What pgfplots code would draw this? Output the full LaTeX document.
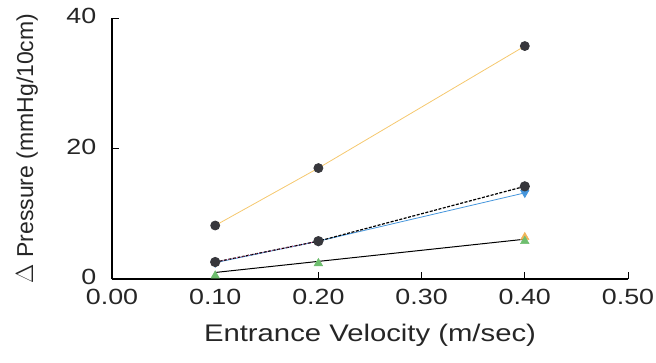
\documentclass[border=0pt]{standalone}
\usepackage{pgfplots}
\pgfplotsset{compat=1.18}
\usepackage{fontspec}
\setmainfont{Liberation Sans}
\newfontfamily\stretchfont{Liberation Sans}[FakeStretch=1.22]
\definecolor{lineorange}{RGB}{245,200,110}
\definecolor{markgray}{RGB}{55,55,60}
\definecolor{lineblue}{RGB}{70,150,220}
\definecolor{trigreen}{RGB}{110,190,110}
\definecolor{triorange}{RGB}{240,180,90}
\definecolor{linepink}{RGB}{230,80,150}
\begin{document}
\begin{tikzpicture}
\path[use as bounding box] (-112pt,-83pt) rectangle (544pt,279pt);
\begin{axis}[
  at={(0,0)}, anchor=south west,
  scale only axis, width=516pt, height=261pt,
  xmin=0, xmax=0.5, ymin=0, ymax=40,
  axis lines=left, axis line style={-, line width=1.1pt},
  xtick={0,0.1,0.2,0.3,0.4,0.5},
  xticklabels={0.00,0.10,0.20,0.30,0.40,0.50},
  ytick={0,20,40},
  tick align=inside, major tick length=7pt,
  tick style={line width=1pt, black},
  ticklabel style={font=\stretchfont\fontsize{22}{24}\selectfont, text=black!85, inner sep=0pt},
  /pgf/number format/assume math mode=true,
  xticklabel style={anchor=north, yshift=-10pt},
  yticklabel style={anchor=east, xshift=-15.5pt, yshift=2pt},
  xlabel={\stretchfont Entrance Velocity (m/sec)},
  ylabel={$\Delta$ Pressure (mmHg/10cm)},
  label style={font=\fontsize{24}{26}\selectfont, text=black!85},
  xlabel style={at={(axis description cs:0.5,0)}, anchor=center, yshift=-56pt},
  ylabel style={at={(axis description cs:0,0.5)}, anchor=center, yshift=85pt, font=\fontsize{23}{25}\selectfont},
  clip=false,
]
\addplot[lineorange, line width=0.8pt, mark=*, mark size=4.5pt, mark options={fill=markgray, draw=markgray}]
  coordinates {(0.1,8.2) (0.2,17.0) (0.4,35.7)};
\addplot[lineblue, line width=0.8pt, mark=triangle*, mark size=4.5pt, mark options={rotate=180, fill=lineblue, draw=lineblue}]
  coordinates {(0.1,2.5) (0.2,5.8) (0.4,13.2)};
\addplot[black, line width=1.2pt, dash pattern=on 3pt off 1.5pt, mark=*, mark size=4.5pt, mark options={solid, fill=markgray, draw=markgray}]
  coordinates {(0.1,2.6) (0.2,5.8) (0.4,14.2)};
\addplot[linepink, line width=0.8pt, dotted]
  coordinates {(0.1,2.6) (0.2,5.8)};
\addplot[only marks, mark=triangle*, mark size=5pt, mark options={fill=triorange, draw=triorange}]
  coordinates {(0.4,6.4)};
\addplot[only marks, mark=triangle*, mark size=5pt, mark options={fill=trigreen, draw=trigreen}]
  coordinates {(0.1,0.5) (0.2,2.4) (0.4,5.8)};
\addplot[black, line width=1pt]
  coordinates {(0.1,1.0) (0.2,2.7) (0.4,6.1)};
\end{axis}
\end{tikzpicture}
\end{document}
